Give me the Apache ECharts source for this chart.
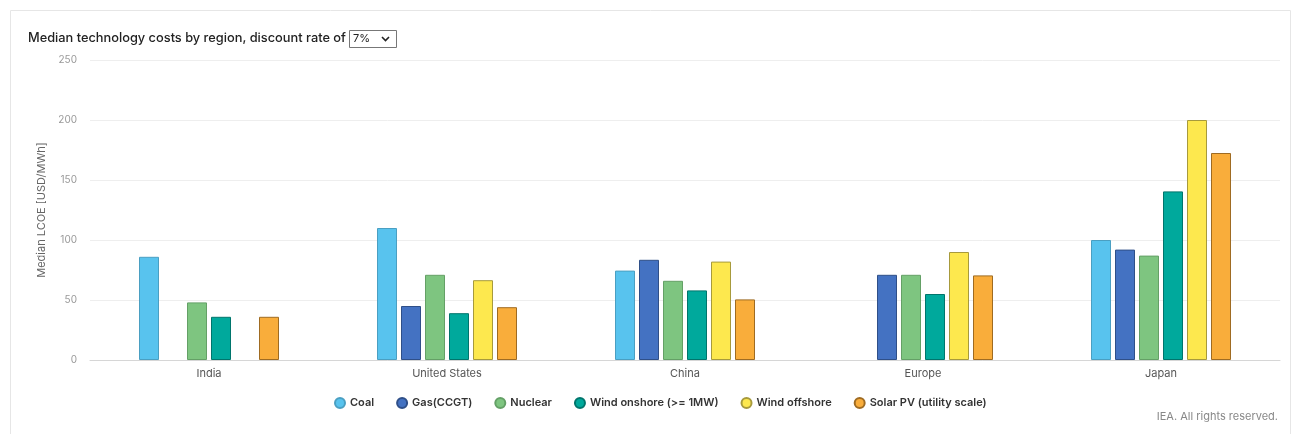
<!DOCTYPE html>
<html>
<head>
<meta charset="utf-8">
<script src="https://cdn.jsdelivr.net/npm/echarts@6/dist/echarts.min.js"></script>
<style>
  html, body { margin: 0; padding: 0; background: #fff; }
  #chart { width: 1302px; height: 434px; }
</style>
</head>
<body>
<div id="chart"></div>
<script>
// Regions on the category axis
const regions = ['India', 'United States', 'China', 'Europe', 'Japan'];

// Median LCOE (USD/MWh) per technology, one value per region (null = no data)
const coal          = [86, 110, 74.5, null, 100];
const gasCCGT       = [null, 45, 83.5, 71, 92];
const nuclear       = [48, 71, 66, 71, 87];
const windOnshore   = [36, 39, 58, 55, 140.5];
const windOffshore  = [null, 66.5, 82, 90, 200];
const solarPV       = [36, 44, 50.5, 70.5, 172.5];

const seriesNames = ['Coal', 'Gas(CCGT)', 'Nuclear', 'Wind onshore (>= 1MW)', 'Wind offshore', 'Solar PV (utility scale)'];
const seriesData  = [coal, gasCCGT, nuclear, windOnshore, windOffshore, solarPV];
const fillColors  = ['#58c3ee', '#4472c2', '#7ec580', '#00a99c', '#fde84e', '#f9ad3b'];
const edgeColors  = ['#4a9fc2', '#2f4f88', '#64a066', '#00756c', '#a79a3c', '#9f6b22'];

const yTicks = { min: 0, max: 250, interval: 50 };

const font = 'Inter, "Noto Sans", sans-serif';

const chart = echarts.init(document.getElementById('chart'), null, { renderer: 'canvas' });

chart.setOption({
  backgroundColor: '#ffffff',
  animation: false,
  textStyle: { fontFamily: font },
  title: {
    text: 'Median technology costs by region, discount rate of',
    left: 28,
    top: 32,
    padding: 0,
    textStyle: { fontFamily: font, fontSize: 12.8, fontWeight: 500, color: '#222' }
  },
  graphic: [
    // outer panel frame
    { type: 'rect', shape: { x: 10.5, y: 10.5, width: 1280, height: 440 },
      style: { fill: 'none', stroke: '#e6e6e6', lineWidth: 1 }, silent: true, z: -1 },
    // discount-rate select box
    { type: 'rect', shape: { x: 349.5, y: 30.5, width: 47, height: 17 },
      style: { fill: '#fff', stroke: '#777', lineWidth: 1 } },
    { type: 'text', left: 353, top: 33,
      style: { text: '7%', font: '11px ' + font, fill: '#222' } },
    { type: 'polyline', shape: { points: [[382, 37], [385.5, 40.5], [389, 37]] },
      style: { stroke: '#222', lineWidth: 1.6, fill: 'none' } },
    // footer credit
    { type: 'text', right: 24, top: 411,
      style: { text: 'IEA. All rights reserved.', font: '11px ' + font, fill: '#888' } }
  ],
  legend: {
    data: seriesNames,
    left: 329,
    top: 392,
    icon: 'circle',
    itemWidth: 10,
    itemHeight: 10,
    itemGap: 22,
    textStyle: { fontFamily: font, fontSize: 11, fontWeight: 600, color: '#333' }
  },
  grid: { left: 90, right: 22, top: 60, bottom: 74, containLabel: false },
  xAxis: {
    type: 'category',
    data: regions,
    axisLine: { lineStyle: { color: '#d6d6d6' } },
    axisTick: { show: false },
    axisLabel: { color: '#555', fontSize: 11, margin: 8, fontFamily: font }
  },
  yAxis: {
    type: 'value',
    min: yTicks.min,
    max: yTicks.max,
    interval: yTicks.interval,
    name: 'Median LCOE [USD/MWh]',
    nameLocation: 'middle',
    nameGap: 38,
    nameTextStyle: { color: '#666', fontSize: 11, fontFamily: font },
    axisLine: { show: false },
    axisTick: { show: false },
    axisLabel: { color: '#999', fontSize: 10, margin: 13, fontFamily: font },
    splitLine: { lineStyle: { color: '#eeeeee' } }
  },
  series: seriesNames.map((name, i) => ({
    name,
    type: 'bar',
    data: seriesData[i],
    barWidth: 20,
    barGap: '20%',
    itemStyle: { color: fillColors[i], borderColor: edgeColors[i], borderWidth: 1 }
  }))
});
</script>
</body>
</html>
